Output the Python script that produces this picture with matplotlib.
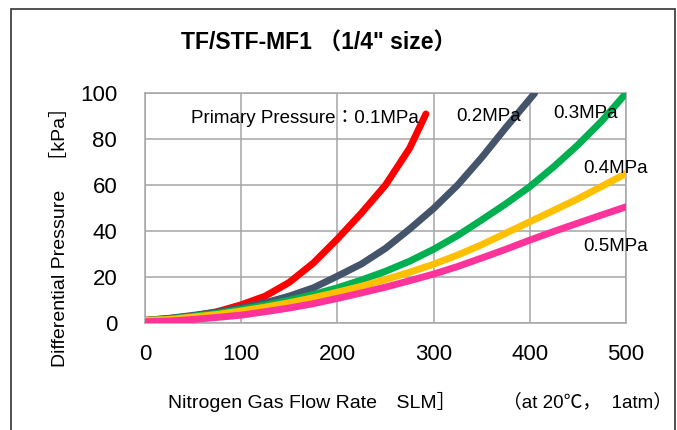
import matplotlib
matplotlib.use("Agg")

import matplotlib.pyplot as plt
from matplotlib.patches import Rectangle

plt.rcParams["font.family"] = ["Liberation Sans", "Noto Sans CJK JP", "DejaVu Sans"]

# ── data (SLM vs kPa) ──
flow_01 = [0, 25, 50, 75, 100, 125, 150, 175, 200, 225, 250, 275, 292]
dp_01 = [1, 1.8, 2.9, 4.8, 7.8, 11.6, 17.6, 26, 36.5, 47.8, 60, 76, 91]

flow_02 = [0, 25, 50, 75, 100, 125, 150, 175, 200, 225, 250, 275, 300, 325, 350, 375, 405]
dp_02 = [1, 1.9, 3.2, 4.6, 6.5, 8.7, 11.6, 15.2, 20.3, 25.6, 32.4, 40.8, 49.8, 60, 72, 85, 100]

flow_03 = [0, 25, 50, 75, 100, 125, 150, 175, 200, 225, 250, 275, 300, 325, 350, 375, 400, 425, 450, 475, 500]
dp_03 = [1, 1.6, 2.8, 4.1, 5.8, 7.7, 9.8, 12.3, 15.2, 18.6, 22.4, 26.8, 32, 38, 44.8, 51.8, 59.3, 68, 77.5, 88, 100]

flow_04 = [0, 25, 50, 75, 100, 125, 150, 175, 200, 225, 250, 275, 300, 325, 350, 375, 400, 425, 450, 475, 500]
dp_04 = [1, 1.4, 2.5, 3.6, 5.1, 6.8, 8.7, 10.9, 13.3, 15.9, 18.8, 22, 25.5, 29.5, 34, 39, 44, 49, 54, 59.5, 65]

flow_05 = [0, 25, 50, 75, 100, 125, 150, 175, 200, 225, 250, 275, 300, 325, 350, 375, 400, 425, 450, 475, 500]
dp_05 = [0.4, 0.7, 1.4, 2.3, 3.3, 4.8, 6.4, 8.3, 10.6, 13, 15.5, 18.3, 21.2, 24.5, 28.2, 32, 36, 39.8, 43.4, 47, 50.5]

series = [
    (flow_01, dp_01, "#FF0000"),
    (flow_02, dp_02, "#44546A"),
    (flow_03, dp_03, "#00B050"),
    (flow_04, dp_04, "#FFC000"),
    (flow_05, dp_05, "#FF3399"),
]

labels = [
    ("Primary Pressure：0.1MPa", 48, 89.2),
    ("0.2MPa", 324, 89.7),
    ("0.3MPa", 424.5, 91.4),
    ("0.4MPa", 456, 67.4),
    ("0.5MPa", 456, 33),
]

xticks = [0, 100, 200, 300, 400, 500]
yticks = [0, 20, 40, 60, 80, 100]

# ── figure ──
fig = plt.figure(figsize=(6.77, 4.30), dpi=100)
ax = fig.add_axes([145 / 677, 1 - 322.7 / 430, 481 / 677, 229.4 / 430])

for x, y, c in series:
    ax.plot(x, y, color=c, linewidth=5, solid_capstyle="round",
            solid_joinstyle="round", zorder=3)

ax.set_xlim(0, 500)
ax.set_ylim(0, 100)
ax.set_xticks(xticks)
ax.set_yticks(yticks)
ax.tick_params(length=0, labelsize=16)
ax.tick_params(axis="y", pad=20)
ax.tick_params(axis="x", pad=15)
ax.grid(True, color="#A6A6A6", linewidth=1.1)
ax.set_axisbelow(True)
for s in ax.spines.values():
    s.set_color("#A6A6A6")
    s.set_linewidth(1.1)

for txt, x, y in labels:
    ax.text(x, y, txt, fontsize=13.5, color="black", ha="left", va="center", zorder=4)

fig.text(319 / 677, 1 - 43 / 430, "TF/STF-MF1 （1/4\" size）", fontsize=16.5,
         fontweight="bold", ha="center", va="center")
fig.text(168 / 677, 1 - 402 / 430, "Nitrogen Gas Flow Rate　SLM］", fontsize=14,
         ha="left", va="center")
fig.text(503 / 677, 1 - 402 / 430, "（at 20℃，  1atm）", fontsize=13.5,
         ha="left", va="center")
fig.text(60 / 677, 1 - 232 / 430, "Differential Pressure　［kPa］", fontsize=14,
         rotation=90, ha="center", va="center")

# outer frame
fig.patches.append(Rectangle((10.5 / 677, -0.05), 664.5 / 677, 1.05 - 8.5 / 430,
                             transform=fig.transFigure, fill=False,
                             edgecolor="#333333", linewidth=1.2))

fig.savefig("out.png", dpi=100)
